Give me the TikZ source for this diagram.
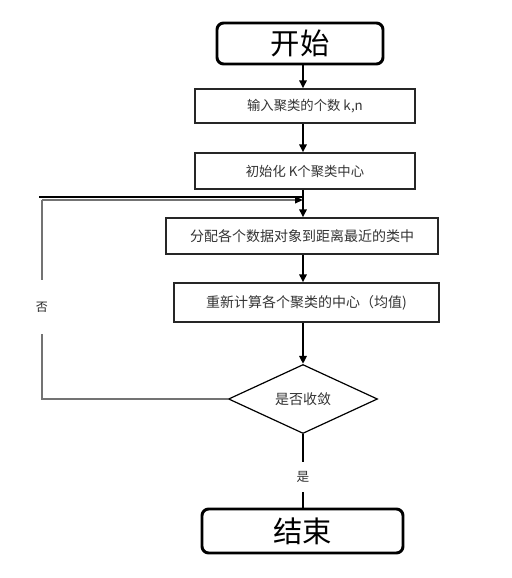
\documentclass[tikz,border=0pt]{standalone}
\usepackage{fontspec}
\setmainfont{Noto Sans CJK SC}
\usetikzlibrary{shapes.geometric,arrows.meta}
\tikzset{
  px/.style={x=0.75pt,y=-0.75pt},
  term/.style={draw=black,line width=2.2pt,rounded corners=5pt,inner sep=0pt,font=\fontsize{22}{24}\selectfont},
  proc/.style={draw=black!85,line width=1pt,inner sep=0pt,font=\fontsize{10}{12}\selectfont,text=black!80},
  dec/.style={draw=black,line width=0.9pt,shape=diamond,aspect=2.16,inner sep=0pt,font=\fontsize{10.5}{12}\selectfont,text=black!80},
  flow/.style={line width=1.5pt,-{Triangle[length=6pt,width=5.5pt]}},
  back/.style={draw=black!55,line width=1.3pt},
}
\begin{document}
\begin{tikzpicture}[px]
\useasboundingbox (0,0) rectangle (511,578);
\node[term,minimum width=166*0.75pt,minimum height=41*0.75pt] (s) at (300,43.5) {开始};
\node[proc,minimum width=220*0.75pt,minimum height=34*0.75pt] (b1) at (305,106) {输入聚类的个数 k,n};
\node[proc,minimum width=220*0.75pt,minimum height=36*0.75pt] (b2) at (305,171) {初始化 K个聚类中心};
\node[proc,minimum width=272*0.75pt,minimum height=36*0.75pt,font=\fontsize{10.5}{12}\selectfont] (b3) at (302,236) {分配各个数据对象到距离最近的类中};
\node[proc,minimum width=265*0.75pt,minimum height=39*0.75pt,font=\fontsize{10.5}{12}\selectfont] (b4) at (306.5,302.5) {重新计算各个聚类的中心（均值)};
\node[dec,minimum width=149*0.75pt,minimum height=69*0.75pt] (d) at (303,399) {是否收敛};
\node[term,minimum width=201*0.75pt,minimum height=44*0.75pt] (e) at (302.5,531) {结束};
\coordinate (j) at (303,200);
\coordinate (c1) at (42,399);
\coordinate (c2) at (42,200);
\coordinate (c3) at (39,197);
\coordinate (c4) at (303,197);
% main flow
\draw[flow] (s.south -| j) -- (b1.north -| j);
\draw[flow] (b1.south -| j) -- (b2.north -| j);
\draw[flow] (b2.south -| j) -- (b3.north -| j);
\draw[flow] (b3.south -| j) -- (b4.north -| j);
\draw[flow] (b4.south -| j) -- (d.north);
\draw[line width=1.2pt] (d.south) -- node[fill=white,inner sep=0pt,minimum height=30*0.75pt,pos=0.59,font=\fontsize{9.5}{11}\selectfont,text=black!80] (yes) {是} (e.north -| d.south);
% feedback
\draw[back] (d.west) -- (c1) -- node[fill=white,inner sep=0pt,minimum height=54*0.75pt,pos=0.462,font=\fontsize{9}{11}\selectfont,text=black!85] (no) {否} (c2);
\draw[back,-{Triangle[length=6pt,width=5pt,fill=black,color=black]}] (c2) -- (j);
\draw[line width=0.8pt,black] (c3) -- (c4);
\end{tikzpicture}
\end{document}
